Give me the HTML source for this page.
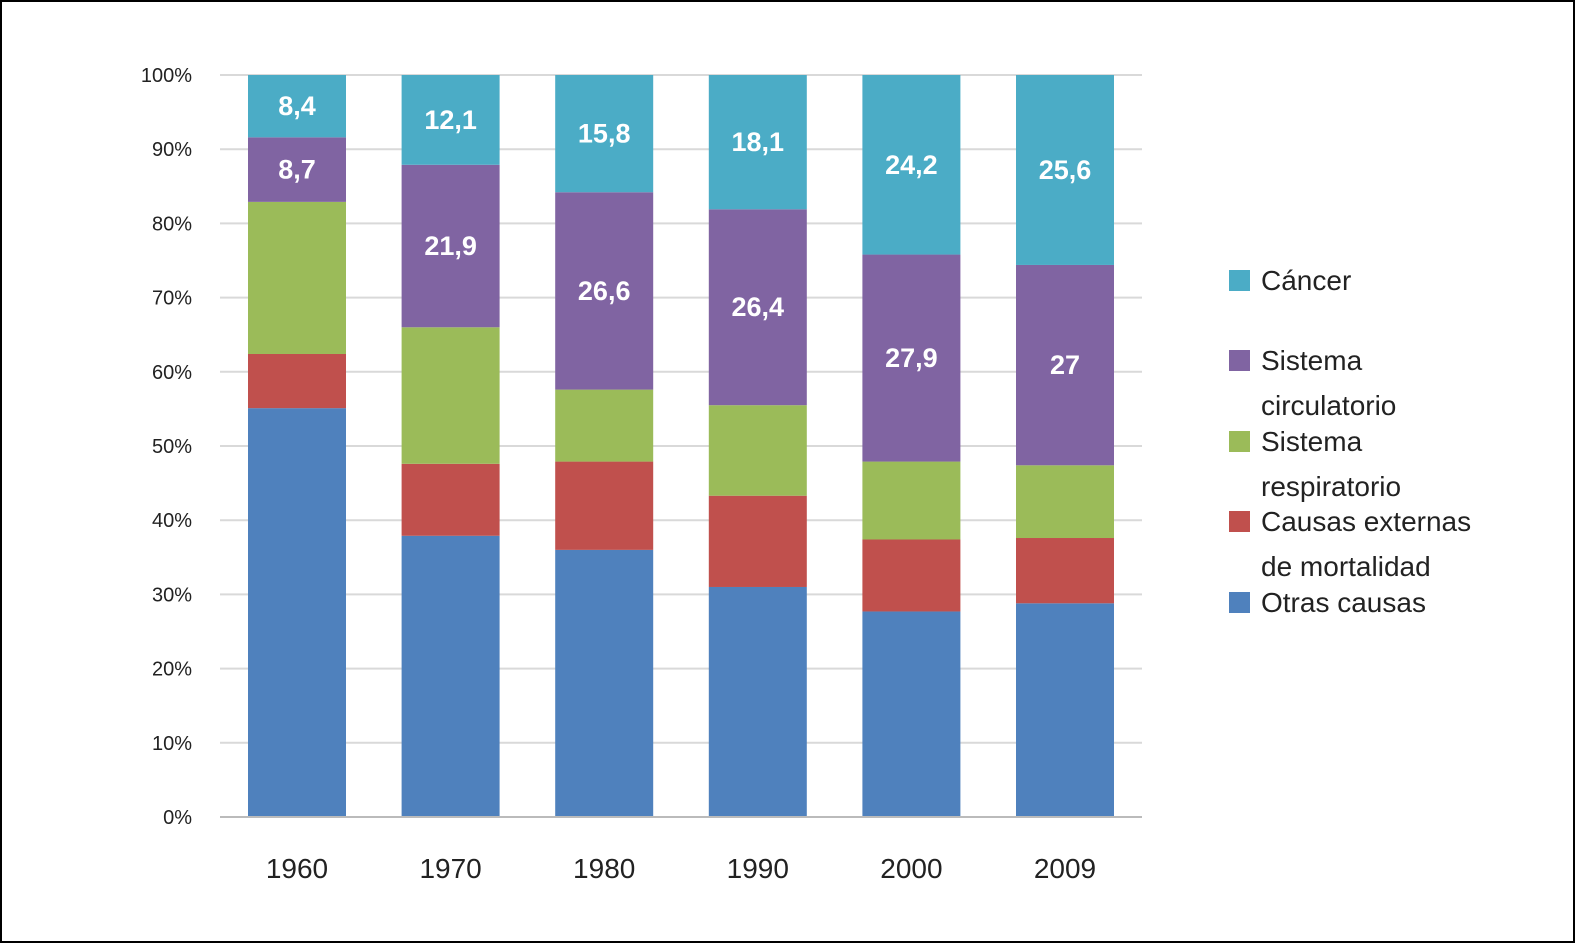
<!DOCTYPE html>
<html><head><meta charset="utf-8"><style>
body{margin:0;background:#fff}
svg{display:block;font-family:"Liberation Sans",sans-serif}
</style></head><body>
<svg id="chart" width="1575" height="943">
<rect x="1" y="1" width="1573" height="941" fill="#fff" stroke="#000" stroke-width="2"/>
<g id="grid"></g><g id="bars"></g><g id="axes"></g><g id="legend"></g>
</svg>
<script>
const years=["1960","1970","1980","1990","2000","2009"];
const otras=[55.1,37.9,36.0,31.0,27.7,28.8];
const externas=[7.3,9.7,11.9,12.3,9.7,8.8];
const respiratorio=[20.5,18.4,9.7,12.2,10.5,9.8];
const circulatorio=[8.7,21.9,26.6,26.4,27.9,27];
const cancer=[8.4,12.1,15.8,18.1,24.2,25.6];
const yTicks=[0,10,20,30,40,50,60,70,80,90,100];
const circLabels=["8,7","21,9","26,6","26,4","27,9","27"];
const cancerLabels=["8,4","12,1","15,8","18,1","24,2","25,6"];
const NS="http://www.w3.org/2000/svg";
const y0=817,y1=75,xL=220,xR=1142;
const yS=v=>y0-(y0-y1)*v/100;
const xS=i=>248+i*153.6;
const bw=98;
function mk(t,a,p){const e=document.createElementNS(NS,t);for(const k in a)e.setAttribute(k,a[k]);p.appendChild(e);return e;}
const grid=document.getElementById('grid'),bars=document.getElementById('bars'),axes=document.getElementById('axes'),leg=document.getElementById('legend');
yTicks.forEach(t=>{
 const l=mk('line',{x1:xL,x2:xR,y1:yS(t),y2:yS(t),stroke:'#d9d9d9','stroke-width':2},grid);
 
 
 const tx=mk('text',{x:192,y:yS(t)+7,'text-anchor':'end','font-size':20,fill:'#222'},axes);
 tx.textContent=t+'%';
 
 
});
const series=[[otras,'#4f81bd','otras'],[externas,'#c0504d','externas'],[respiratorio,'#9bbb59','respiratorio'],[circulatorio,'#8064a2','circulatorio'],[cancer,'#4bacc6','cancer']];
years.forEach((yr,i)=>{
 let cum=0;
 series.forEach(([arr,col,nm])=>{
  const v=arr[i];const top=yS(cum+v),bot=yS(cum);
  const r=mk('rect',{x:xS(i),y:top,width:bw,height:bot-top,fill:col},bars);
  
  
  let lab=null;
  if(nm==='circulatorio')lab=circLabels[i];
  if(nm==='cancer')lab=cancerLabels[i];
  if(lab){const t=mk('text',{x:xS(i)+bw/2,y:(top+bot)/2+9,'text-anchor':'middle','font-size':27,'font-weight':'bold',fill:'#fff'},bars);
   t.textContent=lab;
   
   }
  cum+=v;
 });
 const t=mk('text',{x:xS(i)+bw/2,y:878,'text-anchor':'middle','font-size':28,fill:'#222'},axes);
 t.textContent=yr;
 
 
});
const ax=mk('line',{x1:xL,x2:xR,y1:y0,y2:y0,stroke:'#bbb','stroke-width':2},axes);


const legItems=[["#4bacc6",["Cáncer"],280,'cancer'],["#8064a2",["Sistema","circulatorio"],360,'circulatorio'],["#9bbb59",["Sistema","respiratorio"],441,'respiratorio'],["#c0504d",["Causas externas","de mortalidad"],521,'externas'],["#4f81bd",["Otras causas"],602,'otras']];
legItems.forEach(([c,lines,y,nm])=>{
 const g=mk('g',{},leg);
 
 
 mk('rect',{x:1229,y:y-10,width:21,height:21,fill:c},g);
 lines.forEach((s,k)=>{const t=mk('text',{x:1261,y:y+10+k*45,'font-size':28,fill:'#222'},g);t.textContent=s;});
});
</script>
</body></html>
